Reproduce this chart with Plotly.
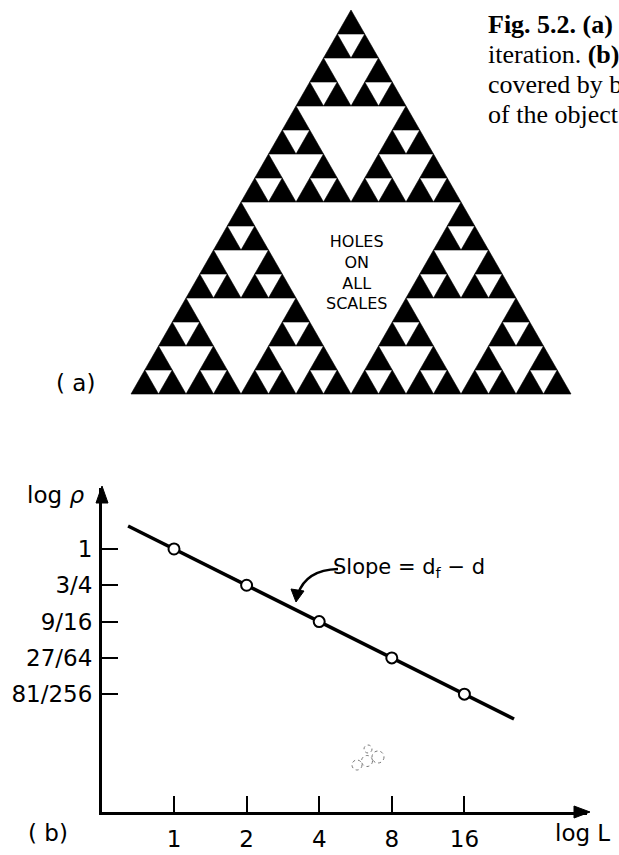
import numpy as np
import plotly.graph_objects as go

W, H = 619, 855

# Density of the Sierpinski gasket measured with boxes of size L
L_values = [1, 2, 4, 8, 16]
rho_values = [1, 3 / 4, 9 / 16, 27 / 64, 81 / 256]
x_tick_text = ["1", "2", "4", "8", "16"]
y_tick_text = ["1", "3/4", "9/16", "27/64", "81/256"]
fit_L_span = [0.645, 25.7]          # extent of the drawn fit line

d_f = np.log(3) / np.log(2)
d = 2
slope = d_f - d

lx = np.log2(L_values)
ly = np.log2(rho_values)
fit_x = np.log2(fit_L_span)
fit_y = slope * fit_x

# ---- Sierpinski gasket (drawn in a pixel-space overlay axis) ----
def gasket(a, b, c, depth, out):
    if depth == 0:
        out.append((a, b, c))
        return
    ab = ((a[0] + b[0]) / 2, (a[1] + b[1]) / 2)
    bc = ((b[0] + c[0]) / 2, (b[1] + c[1]) / 2)
    ca = ((c[0] + a[0]) / 2, (c[1] + a[1]) / 2)
    gasket(a, ab, ca, depth - 1, out)
    gasket(ab, b, bc, depth - 1, out)
    gasket(ca, bc, c, depth - 1, out)

tris = []
gasket((351, 10), (131, 394), (571, 394), 4, tris)
gx, gy = [], []
for t in tris:
    for p in t + (t[0],):
        gx.append(p[0])
        gy.append(p[1])
    gx.append(None)
    gy.append(None)

fig = go.Figure()

fig.add_trace(go.Scatter(
    x=gx, y=gy, mode="lines", fill="toself",
    fillcolor="black", line=dict(color="black", width=0.6),
    xaxis="x2", yaxis="y2", hoverinfo="skip", showlegend=False))

# ---- log-log density plot ----
fig.add_trace(go.Scatter(
    x=fit_x, y=fit_y, mode="lines",
    line=dict(color="black", width=3.5), showlegend=False))
fig.add_trace(go.Scatter(
    x=lx, y=ly, mode="markers",
    marker=dict(size=11, color="white", line=dict(color="black", width=2)),
    showlegend=False))

label_font = dict(family="DejaVu Sans", size=23, color="black")

fig.update_layout(
    width=W, height=H,
    margin=dict(l=0, r=0, t=0, b=0),
    paper_bgcolor="white", plot_bgcolor="rgba(0,0,0,0)",
    xaxis=dict(
        domain=[102 / W, 587 / W], range=[-0.992, 5.689],
        showline=True, linewidth=3, linecolor="black",
        ticks="inside", ticklen=16, tickwidth=2, tickcolor="black",
        tickvals=lx, ticktext=x_tick_text, tickfont=label_font,
        showgrid=False, zeroline=False, anchor="y", ticklabelstandoff=4),
    yaxis=dict(
        domain=[1 - 812 / H, 1 - 488 / H], range=[-3.007, 0.697],
        showline=True, linewidth=3, linecolor="black",
        ticks="inside", ticklen=16, tickwidth=2, tickcolor="black",
        tickvals=ly, ticktext=y_tick_text, tickfont=label_font,
        showgrid=False, zeroline=False, anchor="x", ticklabelstandoff=2),
    xaxis2=dict(domain=[0, 1], range=[0, W], visible=False, anchor="y2",
                fixedrange=True),
    yaxis2=dict(domain=[0, 1], range=[H, 0], visible=False, anchor="x2",
                fixedrange=True),
)

shapes = []
# axis arrowheads
shapes.append(dict(type="path", xref="x2", yref="y2",
                   path="M 574 806 L 590 812 L 574 818 Z",
                   fillcolor="black", line=dict(color="black", width=1)))
shapes.append(dict(type="path", xref="x2", yref="y2",
                   path="M 96 503 L 102 486 L 108 503 Z",
                   fillcolor="black", line=dict(color="black", width=1)))
# curved pointer from the slope label to the line
shapes.append(dict(type="path", xref="x2", yref="y2",
                   path="M 338 569 Q 306 570 298 594",
                   line=dict(color="black", width=2.5)))
shapes.append(dict(type="path", xref="x2", yref="y2",
                   path="M 291 589 L 296 602 L 304 591 Z",
                   fillcolor="black", line=dict(color="black", width=1)))
# faint smudge of small rings
for cx, cy, r in [(357, 765, 5), (367, 761, 5.5), (378, 757, 6), (368, 749, 4)]:
    shapes.append(dict(type="circle", xref="x2", yref="y2",
                       x0=cx - r, x1=cx + r, y0=cy - r, y1=cy + r,
                       line=dict(color="#777", width=1, dash="dot")))
fig.update_layout(shapes=shapes)

ann = []
def text(x, y, s, size=22, family="DejaVu Sans", xanchor="center"):
    ann.append(dict(x=x, y=y, xref="x2", yref="y2", text=s, showarrow=False,
                    xanchor=xanchor, yanchor="middle",
                    font=dict(family=family, size=size, color="black")))

text(55, 495, "log <i>ρ</i>", size=23)
text(582, 833, "log L", size=23)
text(48, 833, "( b)", size=23)
text(75, 383, "( a)", size=23)
text(409, 568, "Slope = d<sub>f</sub> − d", size=21)
ann.append(dict(x=356, y=272, xref="x2", yref="y2",
                text="HOLES<br>ON<br>ALL<br>SCALES", showarrow=False,
                align="center", xanchor="center", yanchor="middle",
                font=dict(family="DejaVu Sans", size=16, color="black")))

serif = "Liberation Serif"
text(486, 24, "<b>Fig. 5.2. (a)</b>", size=26, family=serif, xanchor="left")
text(486, 54, "iteration. <b>(b)</b>", size=26, family=serif, xanchor="left")
text(486, 84, "covered by b", size=26, family=serif, xanchor="left")
text(486, 114, "of the object", size=26, family=serif, xanchor="left")

fig.update_layout(annotations=ann)

fig.write_html("out.html")
